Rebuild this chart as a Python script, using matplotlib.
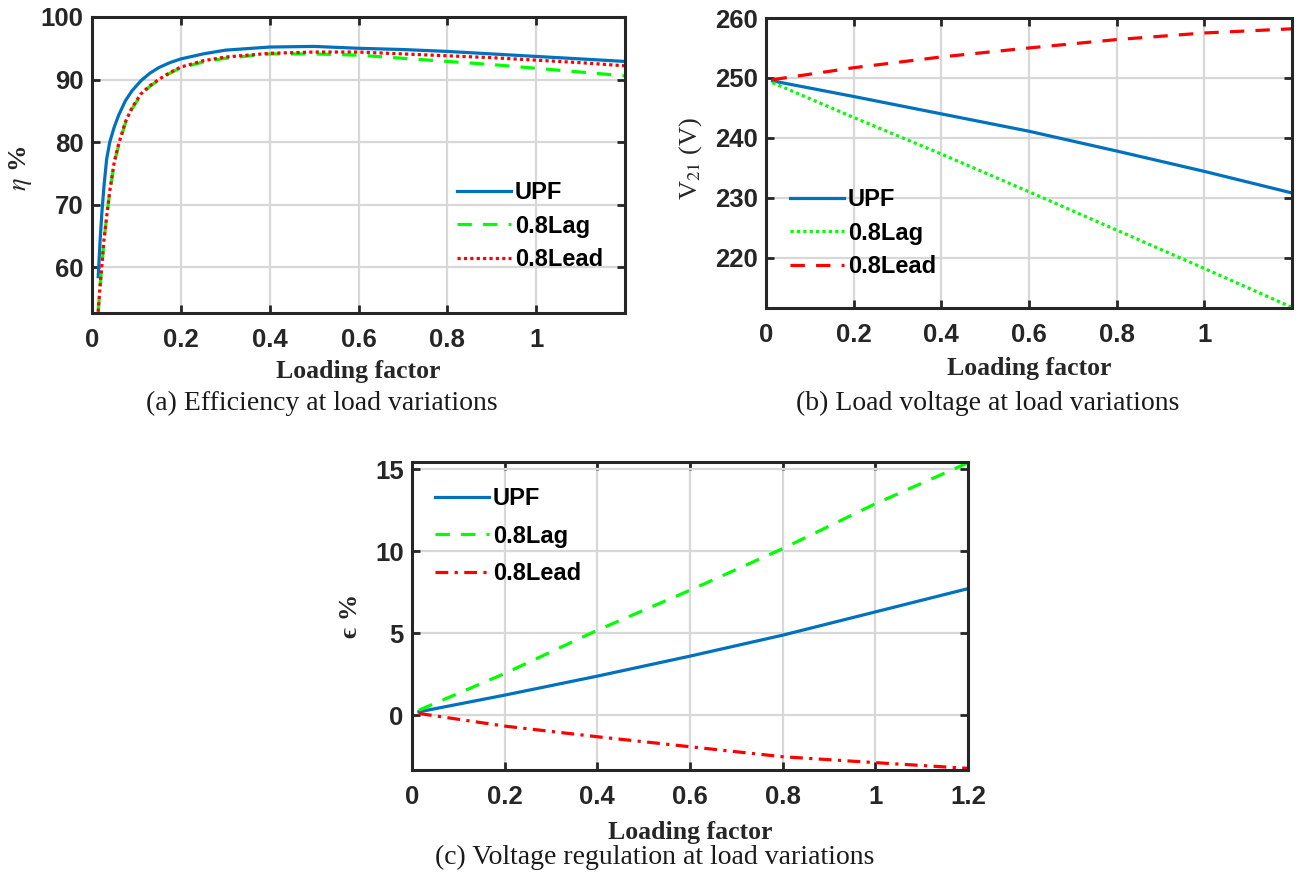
import matplotlib
matplotlib.use("Agg")
import matplotlib.pyplot as plt

# ---------------- data ----------------
load_a = [0.014, 0.018, 0.022, 0.027, 0.033, 0.04, 0.05, 0.06, 0.075, 0.09, 0.11, 0.13, 0.15, 0.175,
          0.2, 0.25, 0.3, 0.4, 0.5, 0.6, 0.7, 0.8, 0.9, 1.0, 1.1, 1.2]
eta_upf = [58.5, 64.0, 68.5, 73.0, 77.3, 80.0, 82.4, 84.3, 86.6, 88.2, 89.8, 91.0, 91.9, 92.7,
           93.3, 94.1, 94.7, 95.2, 95.3, 95.0, 94.8, 94.5, 94.1, 93.7, 93.3, 92.9]
eta_lag = [52.9, 56.8, 60.0, 64.3, 68.0, 72.0, 76.6, 79.5, 83.0, 85.3, 87.5, 88.9, 89.9, 91.0,
           91.9, 92.8, 93.4, 94.1, 94.1, 93.9, 93.4, 92.9, 92.4, 91.8, 91.2, 90.6]
eta_lead = [52.9, 56.9, 60.1, 64.4, 68.1, 72.2, 76.8, 79.7, 83.2, 85.5, 87.7, 89.0, 90.0, 91.1,
            92.0, 93.0, 93.6, 94.2, 94.4, 94.4, 94.1, 93.8, 93.5, 93.1, 92.7, 92.2]

load_b = [0.015, 0.2, 0.4, 0.6, 0.8, 1.0, 1.2]
v_upf = [249.5, 246.9, 244.0, 241.1, 237.8, 234.4, 230.8]
v_lag = [249.2, 243.4, 237.3, 231.0, 224.6, 218.2, 211.7]
v_lead = [249.7, 251.7, 253.5, 255.0, 256.4, 257.5, 258.2]

load_c = [0.015, 0.2, 0.4, 0.6, 0.8, 1.0, 1.2]
vr_upf = [0.2, 1.22, 2.38, 3.6, 4.88, 6.3, 7.72]
vr_lag = [0.3, 2.54, 5.18, 7.62, 10.16, 12.9, 15.4]
vr_lead = [0.1, -0.67, -1.32, -1.93, -2.54, -2.9, -3.25]

labels = ["UPF", "0.8Lag", "0.8Lead"]
xticks_ab = [0, 0.2, 0.4, 0.6, 0.8, 1]
xticks_c = [0, 0.2, 0.4, 0.6, 0.8, 1, 1.2]
xticklabels_ab = ["0", "0.2", "0.4", "0.6", "0.8", "1"]
xticklabels_c = ["0", "0.2", "0.4", "0.6", "0.8", "1", "1.2"]

# ---------------- style ----------------
plt.rcParams['font.family'] = ['Liberation Sans', 'DejaVu Sans']
plt.rcParams['mathtext.fontset'] = 'stix'

BLUE = '#0072BD'
GREEN = '#00FF00'
RED = '#FF0000'
SERIF = ['Liberation Serif', 'DejaVu Serif']
LW = 2.3

W, H = 1304, 877
fig = plt.figure(figsize=(W / 100, H / 100), dpi=100)


def px_axes(l, r, t, b):
    return fig.add_axes([l / W, 1 - b / H, (r - l) / W, (b - t) / H])


def style(ax, xticks, xticklabels, yticks):
    ax.set_xticks(xticks)
    ax.set_xticklabels(xticklabels)
    ax.set_yticks(yticks)
    ax.grid(True, color='#d8d8d8', linewidth=1.6)
    ax.set_axisbelow(True)
    for s in ax.spines.values():
        s.set_linewidth(2.2)
        s.set_color('#262626')
    ax.tick_params(direction='in', length=5.5, width=2.0, color='#262626',
                   top=True, right=True, labelsize=18.5)
    ax.tick_params(axis='x', pad=10.5)
    ax.tick_params(axis='y', pad=6)
    for lab in ax.get_xticklabels() + ax.get_yticklabels():
        lab.set_fontweight('bold')
        lab.set_color('#262626')


def xlab(ax, y):
    ax.set_xlabel("Loading factor", fontfamily=SERIF, fontweight='bold',
                  fontsize=18.5, color='#262626', va='center')
    ax.xaxis.set_label_coords(0.5, y)


def leg(ax, x, y, spacing):
    lg = ax.legend(loc='upper left', bbox_to_anchor=(x / W, 1 - y / H),
                   bbox_transform=fig.transFigure, frameon=False,
                   prop={'family': ['Liberation Sans', 'DejaVu Sans'],
                         'weight': 'bold', 'size': 17},
                   handlelength=2.3, handletextpad=0.15, labelspacing=spacing,
                   borderpad=0, borderaxespad=0)
    return lg


# ---------------- (a) ----------------
axa = px_axes(92, 625, 17, 313)
axa.plot(load_a, eta_upf, color=BLUE, lw=LW, label=labels[0])
axa.plot(load_a, eta_lag, color=GREEN, lw=LW, dashes=(4.5, 3.5), label=labels[1])
axa.plot(load_a, eta_lead, color=RED, lw=LW, dashes=(1, 1), label=labels[2])
axa.set_xlim(0, 1.2)
axa.set_ylim(52.7, 100)
style(axa, xticks_ab, xticklabels_ab, [60, 70, 80, 90, 100])
xlab(axa, -0.199)
axa.set_ylabel(r"$\eta$ %", fontfamily=SERIF, fontweight='bold', fontsize=19,
               color='#262626', va='center')
axa.yaxis.set_label_coords(-0.135, 0.49)
leg(axa, 457, 181, 0.45)

# ---------------- (b) ----------------
axb = px_axes(766, 1292, 18, 308)
axb.plot(load_b, v_upf, color=BLUE, lw=LW, label=labels[0])
axb.plot(load_b, v_lag, color=GREEN, lw=LW, dashes=(1, 1), label=labels[1])
axb.plot(load_b, v_lead, color=RED, lw=LW, dashes=(4.5, 3.5), label=labels[2])
axb.set_xlim(0, 1.2)
axb.set_ylim(211.6, 260)
style(axb, xticks_ab, xticklabels_ab, [220, 230, 240, 250, 260])
xlab(axb, -0.207)
axb.set_ylabel(r"V$_{21}$ (V)", fontfamily=SERIF, fontsize=19,
               color='#262626', va='center')
axb.yaxis.set_label_coords(-0.1426, 0.517)
leg(axb, 790, 188, 0.45)

# ---------------- (c) ----------------
axc = px_axes(412, 968, 462, 770)
axc.plot(load_c, vr_upf, color=BLUE, lw=LW, label=labels[0])
axc.plot(load_c, vr_lag, color=GREEN, lw=LW, dashes=(4.5, 3.5), label=labels[1])
axc.plot(load_c, vr_lead, color=RED, lw=LW, dashes=(4, 2, 1, 2), label=labels[2])
axc.set_xlim(0, 1.2)
axc.set_ylim(-3.35, 15.45)
style(axc, xticks_c, xticklabels_c, [0, 5, 10, 15])
xlab(axc, -0.2045)
axc.set_ylabel("\u03f5 %", fontfamily=SERIF, fontweight='bold', fontsize=19,
               color='#262626', va='center')
axc.yaxis.set_label_coords(-0.11, 0.5)
leg(axc, 435, 487, 0.62)

# ---------------- captions ----------------
cap = dict(fontfamily=SERIF, fontsize=20, ha='center', va='center', color='#1a1a1a')
fig.text(322 / W, 1 - 403 / H, "(a) Efficiency at load variations", **cap)
fig.text(988 / W, 1 - 403 / H, "(b) Load voltage at load variations", **cap)
fig.text(655 / W, 1 - 857 / H, "(c) Voltage regulation at load variations", **cap)

fig.savefig("out.png", dpi=100)
